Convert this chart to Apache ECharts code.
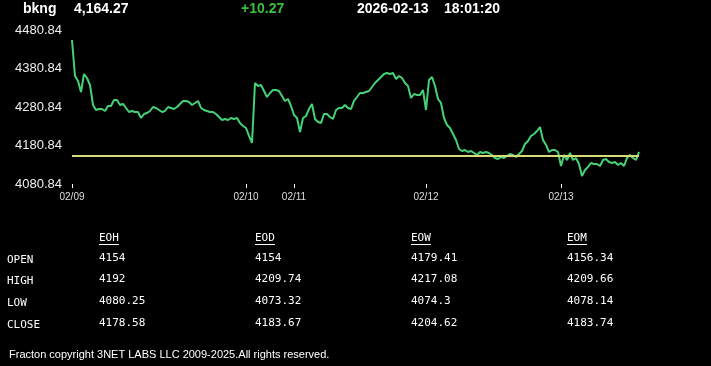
<!DOCTYPE html>
<html>
<head>
<meta charset="utf-8">
<style>
html,body{margin:0;padding:0;background:#000;}
#chart{width:711px;height:366px;}
</style>
<script src="https://cdn.jsdelivr.net/npm/echarts@6/dist/echarts.min.js"></script>
</head>
<body>
<div id="chart"></div>
<script>
// ---- data ----
var symbol = 'bkng';
var lastPrice = '4,164.27';
var change = '+10.27';
var dateText = '2026-02-13';
var timeText = '18:01:20';
var prevClose = 4154;
var yTicks = [4080.84, 4180.84, 4280.84, 4380.84, 4480.84];
var dayLabels = ['02/09', '02/10', '02/11', '02/12', '02/13'];
var dayIndex = [0, 58, 74, 118, 163];
var prices = [
4454.9,4361.4,4348.4,4319.8,4366.6,4356.2,4338.0,4286.1,4273.1,4275.7,
4275.7,4270.5,4283.5,4283.5,4299.1,4299.1,4286.1,4288.7,4278.3,4267.9,
4270.5,4267.9,4267.9,4252.3,4262.7,4265.3,4270.5,4280.9,4278.3,4273.1,
4267.9,4270.5,4280.9,4278.3,4275.7,4280.9,4288.7,4296.5,4296.5,4293.9,
4286.1,4291.3,4296.5,4278.3,4273.1,4270.5,4267.9,4267.9,4262.7,4254.9,
4247.1,4249.7,4247.1,4252.3,4249.7,4252.3,4239.3,4231.5,4226.3,4205.6,
4187.4,4343.2,4335.4,4338.0,4322.4,4306.8,4317.2,4325.0,4325.0,4322.4,
4309.4,4296.5,4301.6,4283.5,4260.1,4252.3,4215.9,4252.3,4257.5,4275.7,
4288.7,4249.7,4241.9,4239.3,4262.7,4262.7,4254.9,4249.7,4273.1,4278.3,
4278.3,4286.1,4278.3,4275.7,4296.5,4306.8,4317.2,4317.2,4319.8,4322.4,
4332.8,4343.2,4351.0,4358.8,4366.6,4369.2,4366.6,4369.2,4353.6,4361.4,
4356.2,4343.2,4335.4,4304.2,4314.6,4312.0,4312.0,4325.0,4273.1,4351.0,
4358.8,4335.4,4301.6,4291.3,4252.3,4234.1,4226.3,4210.8,4195.2,4171.8,
4166.6,4169.2,4164.0,4166.6,4161.4,4156.2,4164.0,4161.4,4164.0,4161.4,
4156.2,4148.4,4145.8,4151.0,4148.4,4153.6,4158.8,4156.2,4151.0,4158.8,
4166.6,4184.8,4192.6,4205.6,4210.8,4218.5,4228.9,4195.2,4182.2,4164.0,
4169.2,4169.2,4164.0,4127.6,4156.2,4143.2,4161.4,4143.2,4148.4,4132.8,
4101.7,4117.3,4125.1,4135.4,4132.8,4132.8,4127.6,4143.2,4145.8,4138.0,
4135.4,4138.0,4130.2,4135.4,4127.6,4148.4,4156.2,4148.4,4143.2,4164.27
];
var rowLabels = ['OPEN', 'HIGH', 'LOW', 'CLOSE'];
var colLabels = ['EOH', 'EOD', 'EOW', 'EOM'];
var eoh = ['4154', '4192', '4080.25', '4178.58'];
var eod = ['4154', '4209.74', '4073.32', '4183.67'];
var eow = ['4179.41', '4217.08', '4074.3', '4204.62'];
var eom = ['4156.34', '4209.66', '4078.14', '4183.74'];
var footer = 'Fracton copyright 3NET LABS LLC 2009-2025.All rights reserved.';

// ---- build ----
var categories = prices.map(function (_, i) { return String(i); });
var labelMap = {};
dayIndex.forEach(function (idx, k) { labelMap[idx] = dayLabels[k]; });

var chart = echarts.init(document.getElementById('chart'), null, {renderer: 'canvas'});

var hdrFont = 'bold 14px "Liberation Sans", Arial, sans-serif';
var monoFont = '11px "DejaVu Sans Mono", monospace';
var graphics = [
  {type: 'text', left: 23, top: 2, style: {text: symbol, fill: '#fff', font: hdrFont}},
  {type: 'text', left: 74, top: 2, style: {text: lastPrice, fill: '#fff', font: hdrFont}},
  {type: 'text', left: 241, top: 2, style: {text: change, fill: '#3cc03c', font: hdrFont}},
  {type: 'text', left: 357, top: 2, style: {text: dateText, fill: '#fff', font: hdrFont}},
  {type: 'text', left: 444, top: 2, style: {text: timeText, fill: '#fff', font: hdrFont}},
  {type: 'text', left: 9, top: 349, style: {text: footer, fill: '#fff', font: '11px "Liberation Sans", Arial, sans-serif'}}
];
var colX = [99, 255, 411, 567];
var rowY = [259, 280, 302, 324];
var cols = [eoh, eod, eow, eom];
colLabels.forEach(function (c, k) {
  graphics.push({type: 'text', x: colX[k], y: 238, style: {text: c, fill: '#fff', font: monoFont, verticalAlign: 'middle'}});
  graphics.push({type: 'line', shape: {x1: colX[k], y1: 244.5, x2: colX[k] + 20, y2: 244.5}, style: {stroke: '#fff', lineWidth: 1}});
});
rowLabels.forEach(function (r, j) {
  graphics.push({type: 'text', x: 7, y: rowY[j] + 1, style: {text: r, fill: '#fff', font: monoFont, verticalAlign: 'middle'}});
  cols.forEach(function (col, k) {
    graphics.push({type: 'text', x: colX[k], y: rowY[j] - 1, style: {text: col[j], fill: '#fff', font: monoFont, verticalAlign: 'middle'}});
  });
});

chart.setOption({
  backgroundColor: '#000',
  animation: false,
  grid: {left: 72, right: 72, top: 30, bottom: 182, containLabel: false},
  xAxis: {
    type: 'category',
    data: categories,
    boundaryGap: false,
    axisLine: {show: false},
    axisTick: {show: true, length: 4, lineStyle: {color: '#fff'},
      interval: function (i) { return labelMap[i] !== undefined; }},
    axisLabel: {
      interval: function (i) { return labelMap[i] !== undefined; },
      formatter: function (v, i) { return labelMap[i] || ''; },
      color: '#ddd', fontSize: 10, margin: 8,
      fontFamily: '"Liberation Sans", Arial, sans-serif'
    },
    splitLine: {show: false}
  },
  yAxis: {
    type: 'value',
    min: yTicks[0], max: yTicks[yTicks.length - 1], interval: 100,
    axisLine: {show: false}, axisTick: {show: false}, splitLine: {show: false},
    axisLabel: {
      color: '#eee', fontSize: 13, margin: 10,
      fontFamily: '"Liberation Sans", Arial, sans-serif',
      formatter: function (v) { return v.toFixed(2); }
    }
  },
  series: [{
    type: 'line',
    data: prices,
    symbol: 'none',
    lineStyle: {color: '#45d277', width: 2},
    markLine: {
      silent: true, symbol: 'none', label: {show: false},
      lineStyle: {color: '#d8dc78', width: 2, type: 'solid'},
      data: [{yAxis: prevClose}]
    }
  }],
  graphic: graphics
});
</script>
</body>
</html>
